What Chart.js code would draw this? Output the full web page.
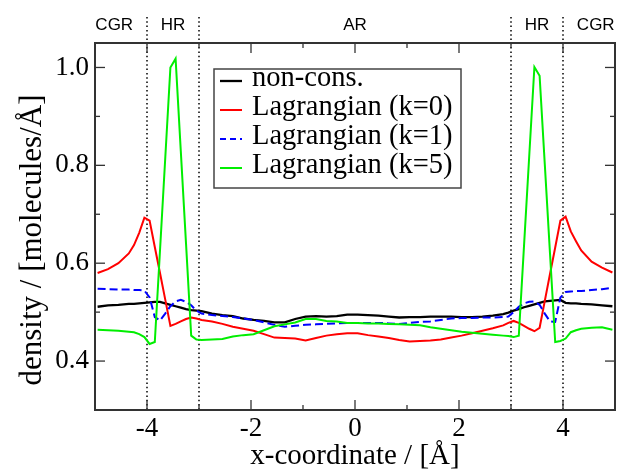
<!DOCTYPE html>
<html>
<head>
<meta charset="utf-8">
<script src="https://cdn.jsdelivr.net/npm/chart.js@4.4.0/dist/chart.umd.min.js"></script>
<style>
  html, body { margin: 0; padding: 0; background: #fff; }
</style>
</head>
<body>
<canvas id="chart" width="618" height="474"></canvas>
<script>
// bin centres, 0.1 wide near the HR/CGR borders, 0.2 in the flat AR part
const xs = [
  -4.95, -4.75, -4.55, -4.35, -4.25, -4.15, -4.05, -3.95, -3.85, -3.75, -3.65, -3.55, -3.45, -3.35, -3.25, -3.15, -3.05, -2.95,
  -2.75, -2.55, -2.35, -2.15, -1.95, -1.75, -1.55, -1.35, -1.15, -0.95, -0.75, -0.55, -0.35, -0.15,
  0.05, 0.25, 0.45, 0.65, 0.85, 1.05, 1.25, 1.45, 1.65, 1.85, 2.05, 2.25, 2.45, 2.65, 2.85,
  2.95, 3.05, 3.15, 3.25, 3.35, 3.45, 3.55, 3.65, 3.75, 3.85, 3.95, 4.05, 4.15, 4.25,
  4.35, 4.55, 4.75, 4.95
];

const nonCons = [
  0.511, 0.514, 0.515, 0.517, 0.517, 0.518, 0.519, 0.520, 0.521, 0.521, 0.518, 0.515, 0.512, 0.509, 0.506, 0.504, 0.503, 0.502,
  0.497, 0.494, 0.492, 0.487, 0.484, 0.482, 0.479, 0.479, 0.486, 0.491, 0.492, 0.491, 0.492, 0.495,
  0.495, 0.494, 0.493, 0.491, 0.489, 0.490, 0.490, 0.491, 0.491, 0.491, 0.490, 0.490, 0.491, 0.493, 0.496,
  0.499, 0.503, 0.506, 0.510, 0.513, 0.516, 0.519, 0.522, 0.523, 0.524, 0.525, 0.519, 0.518, 0.518,
  0.517, 0.516, 0.514, 0.512
];

const lagK0 = [
  0.580, 0.588, 0.600, 0.620, 0.637, 0.662, 0.693, 0.687, 0.633, 0.580, 0.526, 0.472, 0.476, 0.481, 0.486, 0.489, 0.487, 0.484,
  0.481, 0.476, 0.470, 0.466, 0.462, 0.455, 0.448, 0.447, 0.446, 0.442, 0.447, 0.452, 0.455, 0.457,
  0.457, 0.453, 0.450, 0.447, 0.443, 0.440, 0.441, 0.442, 0.444, 0.448, 0.452, 0.457, 0.462, 0.467, 0.473,
  0.478, 0.482, 0.478, 0.472, 0.466, 0.461, 0.468, 0.523, 0.578, 0.632, 0.687, 0.695, 0.665, 0.645,
  0.626, 0.603, 0.591, 0.581
];

const lagK1 = [
  0.548, 0.547, 0.546, 0.546, 0.545, 0.545, 0.544, 0.530, 0.490, 0.483, 0.497, 0.512, 0.522, 0.525, 0.521, 0.514, 0.503, 0.497,
  0.494, 0.492, 0.490, 0.487, 0.484, 0.479, 0.474, 0.470, 0.472, 0.474, 0.475, 0.476, 0.477, 0.478,
  0.478, 0.478, 0.478, 0.477, 0.476, 0.478, 0.480, 0.481, 0.484, 0.487, 0.488, 0.488, 0.489, 0.489, 0.490,
  0.491, 0.500, 0.511, 0.518, 0.521, 0.522, 0.515, 0.497, 0.481, 0.480, 0.530, 0.541, 0.542, 0.543,
  0.543, 0.545, 0.547, 0.550
];

const lagK5 = [
  0.464, 0.463, 0.462, 0.460, 0.459, 0.455, 0.449, 0.435, 0.439, 0.626, 0.813, 1.000, 1.018, 0.829, 0.641, 0.452, 0.444, 0.443,
  0.444, 0.445, 0.450, 0.453, 0.455, 0.463, 0.471, 0.475, 0.479, 0.486, 0.486, 0.482, 0.481, 0.478,
  0.478, 0.477, 0.477, 0.476, 0.475, 0.474, 0.473, 0.469, 0.466, 0.463, 0.460, 0.458, 0.456, 0.454, 0.452,
  0.451, 0.449, 0.452, 0.635, 0.818, 1.001, 0.983, 0.802, 0.620, 0.439, 0.441, 0.446, 0.459, 0.463,
  0.466, 0.468, 0.469, 0.464
];

const xTicks = [-4, -2, 0, 2, 4];
const yTicks = [0.4, 0.6, 0.8, 1.0];
const dividers = [-4, -3, 3, 4];
const regionNames = ['CGR', 'HR', 'AR', 'HR', 'CGR'];
const regionCenters = [-4.63, -3.5, 0, 3.5, 4.63];

const serif = '"Liberation Serif", "DejaVu Serif", serif';

const series = [
  { label: 'non-cons.', values: nonCons, color: '#000000', dash: [], width: 2.3 },
  { label: 'Lagrangian (k=0)', values: lagK0, color: '#ff0000', dash: [], width: 2 },
  { label: 'Lagrangian (k=1)', values: lagK1, color: '#0000ff', dash: [8, 4], width: 2 },
  { label: 'Lagrangian (k=5)', values: lagK5, color: '#00ee00', dash: [], width: 2 }
];

const mids = arr => arr.slice(1).map((v, i) => (v + arr[i]) / 2);

const decor = {
  id: 'decor',
  beforeDatasetsDraw(chart) {
    const { ctx, chartArea: a, scales: { x } } = chart;
    ctx.save();
    ctx.strokeStyle = '#000';
    ctx.lineWidth = 1.5;
    ctx.setLineDash([1.5, 2.8]);
    dividers.forEach(v => {
      const px = x.getPixelForValue(v);
      ctx.beginPath();
      ctx.moveTo(px, 17);
      ctx.lineTo(px, a.bottom);
      ctx.stroke();
    });
    ctx.restore();
  },
  afterDatasetsDraw(chart) {
    const { ctx, chartArea: a, scales: { x, y } } = chart;
    const seg = (x1, y1, x2, y2) => {
      ctx.beginPath(); ctx.moveTo(x1, y1); ctx.lineTo(x2, y2); ctx.stroke();
    };
    ctx.save();
    ctx.strokeStyle = '#333';
    ctx.lineWidth = 1.3;
    const xt = (vals, len) => vals.forEach(v => {
      const px = x.getPixelForValue(v);
      seg(px, a.bottom, px, a.bottom - len);
      seg(px, a.top, px, a.top + len);
    });
    const yt = (vals, len) => vals.forEach(v => {
      const py = y.getPixelForValue(v);
      seg(a.left, py, a.left + len, py);
      seg(a.right, py, a.right - len, py);
    });
    xt(xTicks, 10); xt(mids(xTicks), 5);
    yt(yTicks, 10); yt(mids(yTicks), 5);

    ctx.lineWidth = 2;
    ctx.strokeRect(a.left, a.top, a.right - a.left, a.bottom - a.top);

    // region labels above the frame
    ctx.fillStyle = '#000';
    ctx.font = '17px "Liberation Sans", Arial, sans-serif';
    ctx.textAlign = 'center';
    ctx.textBaseline = 'alphabetic';
    regionNames.forEach((n, i) => ctx.fillText(n, x.getPixelForValue(regionCenters[i]), 30));

    // y axis title
    ctx.save();
    ctx.translate(33, 240);
    ctx.rotate(-Math.PI / 2);
    ctx.font = '31px ' + serif;
    ctx.textBaseline = 'middle';
    ctx.fillText('density / [molecules/Å]', 0, 0);
    ctx.restore();

    // legend box
    ctx.fillStyle = '#fff';
    ctx.fillRect(214, 69, 247, 119);
    ctx.strokeStyle = '#444';
    ctx.lineWidth = 1.5;
    ctx.strokeRect(214, 69, 247, 119);
    ctx.font = '28.5px ' + serif;
    ctx.textAlign = 'left';
    series.forEach((s, i) => {
      const base = 86 + i * 29;
      ctx.strokeStyle = s.color;
      ctx.lineWidth = s.width;
      ctx.setLineDash(s.dash.length ? [6, 4] : []);
      seg(220, base - 5, 242, base - 5);
      ctx.setLineDash([]);
      ctx.fillStyle = '#000';
      ctx.fillText(s.label, 252, base);
    });
    ctx.restore();
  }
};

new Chart(document.getElementById('chart'), {
  type: 'line',
  data: {
    datasets: series.map((s, i) => ({
      label: s.label,
      data: xs.map((xv, j) => ({ x: xv, y: s.values[j] })),
      borderColor: s.color,
      borderWidth: s.width,
      borderDash: s.dash,
      pointRadius: 0,
      tension: 0,
      fill: false,
      order: series.length - 1 - i
    }))
  },
  options: {
    responsive: false,
    animation: false,
    devicePixelRatio: 1,
    layout: { padding: { top: 43, right: 3, left: 0, bottom: 0 } },
    plugins: { legend: { display: false }, tooltip: { enabled: false } },
    scales: {
      x: {
        type: 'linear',
        min: -5,
        max: 5,
        afterFit: s => { s.height = 64; },
        afterBuildTicks: s => { s.ticks = xTicks.map(v => ({ value: v })); },
        grid: { display: false, drawTicks: false },
        border: { display: false },
        ticks: { color: '#000', font: { family: serif, size: 27 }, padding: 3, maxRotation: 0, callback: v => String(v) },
        title: { display: true, text: 'x-coordinate / [Å]', color: '#000', font: { family: serif, size: 29 }, padding: 0 }
      },
      y: {
        min: 0.3,
        max: 1.05,
        afterFit: s => { s.width = 95; },
        afterBuildTicks: s => { s.ticks = yTicks.map(v => ({ value: v })); },
        grid: { display: false, drawTicks: false },
        border: { display: false },
        ticks: { color: '#000', font: { family: serif, size: 27 }, padding: 6, callback: v => v.toFixed(1) }
      }
    }
  },
  plugins: [decor]
});
</script>
</body>
</html>
